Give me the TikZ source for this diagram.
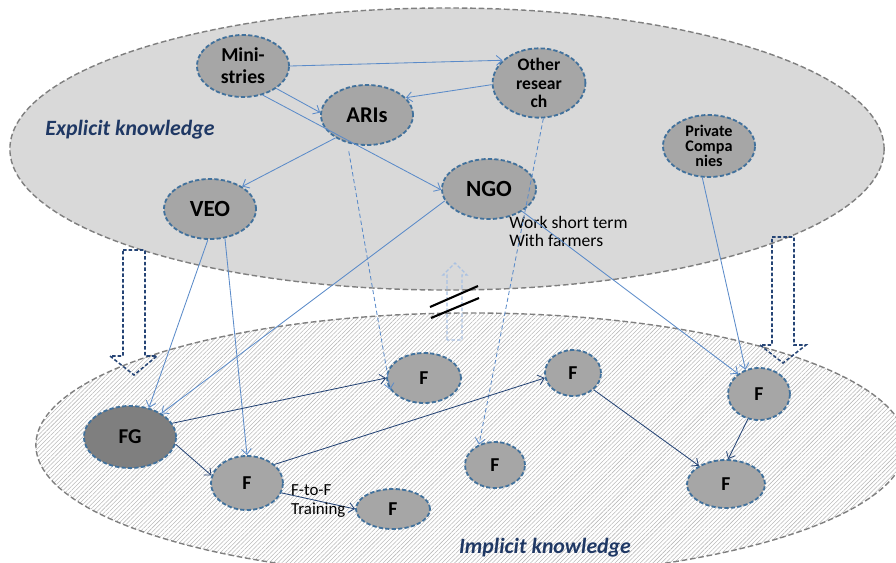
\documentclass[tikz,border=0pt]{standalone}
\usepackage{fontspec}
\setmainfont{Carlito}
\usepackage{xcolor}
\usepackage{tikz}
\usetikzlibrary{arrows.meta,shapes.geometric,patterns}
\definecolor{ExplicitGrey}{HTML}{D9D9D9}
\definecolor{NodeGrey}{HTML}{A6A6A6}
\definecolor{GroupGrey}{HTML}{7F7F7F}
\definecolor{RimBlue}{HTML}{41719C}
\definecolor{LinkBlue}{HTML}{5B8BC9}
\definecolor{LinkDark}{HTML}{254475}
\definecolor{TitleBlue}{HTML}{1F3864}
\definecolor{FaintBlue}{HTML}{A9C1E3}

\begin{document}
\begin{tikzpicture}[
  x=0.025cm, y=-0.025cm,
  actor/.style={ellipse, draw=RimBlue, dash pattern=on 3pt off 1.6pt, line width=1.3pt, fill=NodeGrey, inner sep=0pt, align=center},
  farmer/.style={actor, font=\bfseries\fontsize{14}{16}\selectfont},
  link/.style={-{Straight Barb[length=4pt,width=7pt]}, draw=LinkBlue, line width=0.6pt},
  hint/.style={link, dash pattern=on 3pt off 2pt},
  peer/.style={link, draw=LinkDark},
  block/.style={draw=LinkDark, line width=1.1pt, dash pattern=on 2.5pt off 1.5pt},
  layer/.style={font=\bfseries\itshape\fontsize{15.5}{18}\selectfont, text=TitleBlue}
]
\useasboundingbox (0,0) rectangle (896,562);
\clip (0,0) rectangle (896,562);

\draw[draw=GroupGrey, line width=1pt, dash pattern=on 4pt off 2pt, pattern=north east lines, pattern color=gray!55]
  (471,445) ellipse [x radius=10.875cm, y radius=3.3cm];
\draw[draw=GroupGrey, line width=1pt, dash pattern=on 4pt off 2pt, fill=ExplicitGrey]
  (447,149) ellipse [x radius=10.925cm, y radius=3.525cm];

\node[layer] (explicit) at (130,130) {Explicit knowledge};
\node[layer] (implicit) at (545,548) {Implicit knowledge};

\draw[block] (123,250) -- (145,250) -- (145,356) -- (157,356) -- (134,375) -- (110,356) -- (123,356) -- cycle;
\draw[block] (772,237) -- (794,237) -- (794,345) -- (806,345) -- (783,363) -- (760,345) -- (772,345) -- cycle;
\draw[block, draw=FaintBlue, line width=0.9pt] (447,340) -- (447,275) -- (443,275) -- (455,263) -- (467,275) -- (462,275) -- (462,340) -- cycle;
\draw[line width=1.5pt] (430,307) -- (478,286);
\draw[line width=1.5pt] (431,318) -- (479,298);

\node[actor, minimum width=2.3cm, minimum height=1.55cm, font=\bfseries\fontsize{14}{15.5}\selectfont] (mini) at (243,66) {Mini-\\stries};
\node[actor, minimum width=2.3cm, minimum height=1.5cm, font=\bfseries\fontsize{16}{18}\selectfont] (aris) at (367,115) {ARIs};
\node[actor, minimum width=2.3cm, minimum height=1.5cm, font=\bfseries\fontsize{16.5}{18}\selectfont] (veo) at (210,209) {VEO};
\node[actor, minimum width=2.32cm, minimum height=1.55cm, font=\bfseries\fontsize{12.5}{13}\selectfont] (other) at (539,83) {Other\\resear\\ch};
\node[actor, minimum width=2.35cm, minimum height=1.5cm, font=\bfseries\fontsize{16.5}{18}\selectfont] (ngo) at (489,189) {NGO};
\node[actor, minimum width=2.3cm, minimum height=1.55cm, font=\bfseries\fontsize{11.5}{10.8}\selectfont] (priv) at (709,146) {Private\\Compa\\nies};
\node[actor, fill=GroupGrey, minimum width=2.3cm, minimum height=1.55cm, font=\bfseries\fontsize{15}{17}\selectfont] (fg) at (130,437) {FG};
\node[farmer, minimum width=1.8cm, minimum height=1.35cm] (f1) at (247,483) {F};
\node[farmer, minimum width=1.85cm, minimum height=1cm] (fs) at (393,509) {F};
\node[farmer, minimum width=1.85cm, minimum height=1.25cm] (fc) at (424,378) {F};
\node[farmer, minimum width=1.4cm, minimum height=1.15cm] (fa) at (573,373) {F};
\node[farmer, minimum width=1.5cm, minimum height=1.15cm] (fm) at (495,465) {F};
\node[farmer, minimum width=1.55cm, minimum height=1.3cm] (fr) at (759,394) {F};
\node[farmer, minimum width=1.95cm, minimum height=1.2cm] (fbr) at (726,484) {F};

\node[align=left, anchor=north west, inner sep=0pt, font=\fontsize{12.5}{13}\selectfont] (term) at (509,216) {Work short term\\With farmers};

\draw[link] (mini.0) -- (other.148);
\draw[link] (other.182) -- (aris.24);
\draw[link] (mini.-34) -- (aris.177);
\draw[link] (mini.-56) -- (ngo.181);
\draw[link] (aris.216) -- (veo.35);
\draw[hint, shorten <=6pt] (aris.235) -- (fc.199);
\draw[hint] (other.-83) -- (fm.128);
\draw[link] (veo.266) -- (fg.57);
\draw[link] (veo.297) -- (f1.90);
\draw[link] (ngo.195) -- (fg.37);
\draw[link] (ngo.-34) -- (fr.136);
\draw[link] (priv.258) -- (fr.119);

\draw[peer] (fg.18) -- (fc.180);
\draw[peer] (fg.-9) -- (f1.168);
\draw[peer] (f1.34) -- (fa.190);
\draw[peer] (f1.-16) -- node[align=left, font=\fontsize{12}{13}\selectfont, inner sep=1pt] (train) {F-to-F\\Training} (fs.180);
\draw[peer] (fa.-39) -- (fbr.146);
\draw[peer] (fr.246) -- (fbr.85);
\end{tikzpicture}
\end{document}
